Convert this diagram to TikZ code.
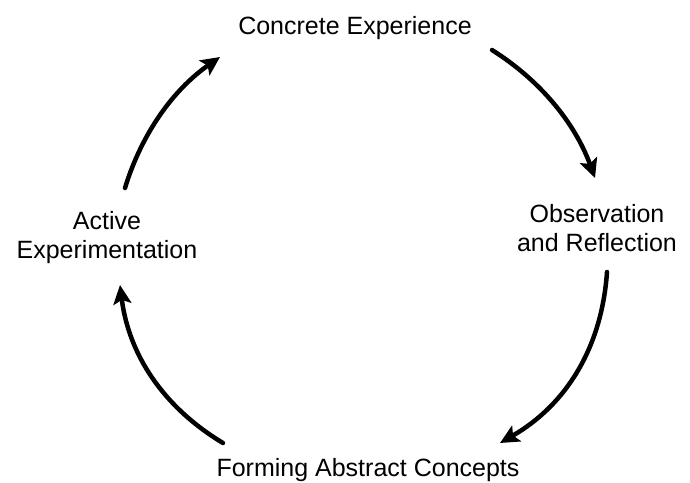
\documentclass[tikz,border=0pt]{standalone}
\usepackage{fontspec}
\setmainfont{Liberation Sans}
\usetikzlibrary{arrows.meta}
\begin{document}
\begin{tikzpicture}[x=1pt,y=-1pt,
  lbl/.style={font=\fontsize{25}{29}\selectfont, inner sep=0pt, align=center},
  cyc/.style={line width=4.5pt, line cap=round, -{Stealth[length=19pt,width=18pt,inset=4pt]}}]
\useasboundingbox (0,0) rectangle (690,482);
\node[lbl, anchor=base] (ce) at (355,34) {Concrete Experience};
\node[lbl, anchor=base] (or) at (597,251) {Observation\\and Reflection};
\node[lbl, anchor=base] (fa) at (368,476) {Forming Abstract Concepts};
\node[lbl, anchor=base] (ae) at (107,258) {Active\\Experimentation};
\coordinate (a1s) at (492,50);  \coordinate (a1e) at (595,178);
\coordinate (a2s) at (607,272); \coordinate (a2e) at (500,443);
\coordinate (a3s) at (223,443); \coordinate (a3e) at (120,285);
\coordinate (a4s) at (125,188); \coordinate (a4e) at (220,57);
\draw[cyc] (a1s) .. controls (540.7,80.7) and (575,123.3) .. (a1e);
\draw[cyc] (a2s) .. controls (601.7,348) and (566,405) .. (a2e);
\draw[cyc] (a3s) .. controls (163,407) and (128.7,354.3) .. (a3e);
\draw[cyc] (a4s) .. controls (141.7,133.3) and (173.3,89.7) .. (a4e);
\end{tikzpicture}
\end{document}
